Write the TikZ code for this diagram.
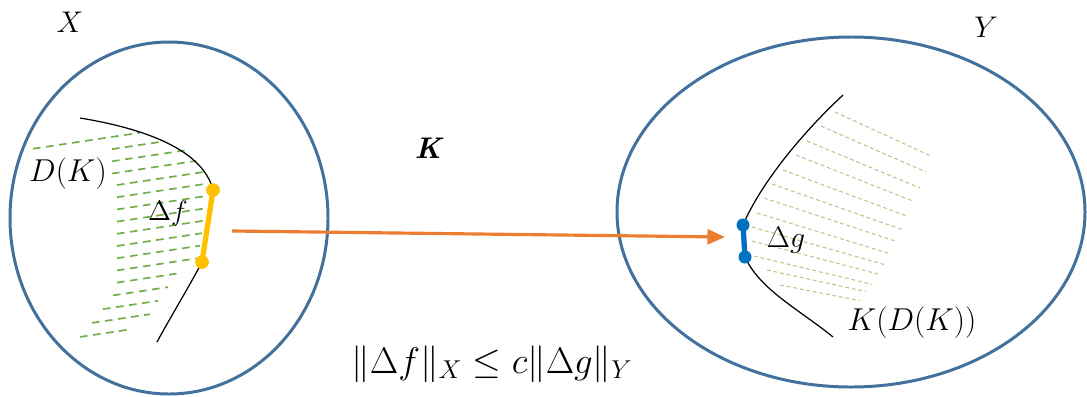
\RequirePackage{fix-cm}
\documentclass[tikz,border=0pt]{standalone}
\usetikzlibrary{arrows.meta}
\definecolor{setblue}{RGB}{65,113,156}
\definecolor{maporange}{RGB}{237,125,49}
\definecolor{segyellow}{RGB}{255,192,0}
\definecolor{segblue}{RGB}{0,112,192}
\definecolor{hatchgreen}{RGB}{112,173,71}
\definecolor{hatchpale}{RGB}{185,200,135}
\tikzset{
  setring/.style={draw=setblue, line width=1.7pt},
  boundary/.style={draw=black, line width=0.7pt},
  hatchL/.style={draw=hatchgreen, line width=0.95pt, dash pattern=on 4.3pt off 3.2pt},
  hatchR/.style={draw=hatchpale, line width=0.6pt, dash pattern=on 2.2pt off 1.6pt},
  ydot/.style={circle, fill=segyellow, inner sep=0pt, minimum size=7.8pt},
  bdot/.style={circle, fill=segblue, inner sep=0pt, minimum size=7.4pt},
  lab/.style={inner sep=0pt, text=black},
}
\begin{document}
\begin{tikzpicture}[x=0.02cm, y=-0.02cm]
\useasboundingbox (0,0) rectangle (1087,396);
\fill[white] (0,0) rectangle (1087,396);

% sets
\draw[setring] (169,218) ellipse [x radius=159, y radius=176];
\draw[setring] (851,212) ellipse [x radius=234, y radius=175];

% left hatching (domain)
\foreach \sx/\sy/\ex/\ey in {33/148.75/140/132.7, 112/149.1/165/141.2,
  112/161.3/188/149.9, 112/173.5/196/160.9, 117/185.0/203/172.1,
  117/197.2/204/184.1, 117/209.4/203/196.5, 117/221.6/205/208.4,
  117/233.8/204/220.7, 117/246.0/202/233.2, 117/258.2/200/245.7,
  117/270.4/196/258.5, 117/282.6/180/273.1, 113/295.4/168/287.1,
  103/309.1/158/300.8, 92/322.9/150/314.2, 80/336.9/132/329.1} {
  \draw[hatchL] (\sx,\sy) -- (\ex,\ey);
}

% right hatching (image)
\foreach \sx/\sy/\ex/\ey in {835/112/932/156.6, 821/126/926/172, 807/141/920/188,
  796/155/914/201.5, 783/170/908/216.5, 772/184/902/229.5, 764/198/896/241.3,
  757/213/890/253.7, 752/227/884/264.5, 752/241/878/274, 754/256/872/284.3,
  767/270/866/291.6, 780/285/860/300.7} {
  \draw[hatchR] (\sx,\sy) -- (\ex,\ey);
}

% boundary curves
\draw[boundary] (80,118) .. controls (165,132) and (205,158) .. (213,190)
  -- (202,262) .. controls (190,285) and (170,318) .. (157,342);
\draw[boundary] (843,95) .. controls (800,135) and (760,185) .. (743,225)
  -- (745,257) .. controls (760,290) and (800,310) .. (833,337);

% segments
\node[ydot] (f1) at (213,190) {};
\node[ydot] (f2) at (202,262) {};
\draw[segyellow, line width=3pt] (f1.center) -- (f2.center);
\node[bdot] (g1) at (743,225) {};
\node[bdot] (g2) at (745,257) {};
\draw[segblue, line width=3pt] (g1.center) -- (g2.center);

% mapping arrow
\coordinate (kstart) at (232,231);
\coordinate (kend) at (725,237);
\draw[maporange, line width=1.8pt, -{Triangle[length=10pt, width=8.5pt]}] (kstart) -- (kend);

% labels
\node[lab, font=\fontsize{17}{20}\selectfont] (lx) at (70,22) {$X$};
\node[lab, font=\fontsize{17}{20}\selectfont] (ly) at (986,27) {$Y$};
\node[lab, font=\fontsize{17}{20}\selectfont\bfseries\itshape] (lk) at (428,148) {K};
\node[lab, font=\fontsize{18}{21}\selectfont] (ldk) at (68,174) {$D(K)$};
\node[lab, font=\fontsize{16}{19}\selectfont] (ldf) at (168,213) {$\Delta f$};
\node[lab, font=\fontsize{17}{20}\selectfont] (ldg) at (786,240) {$\Delta g$};
\node[lab, font=\fontsize{18}{21}\selectfont] (lkdk) at (912,323) {$K\bigl(D(K)\bigr)$};
\node[lab, font=\fontsize{21}{25}\selectfont] (lnorm) at (492,364) {$\|\Delta f\|_X \leq c\|\Delta g\|_Y$};
\end{tikzpicture}
\end{document}
